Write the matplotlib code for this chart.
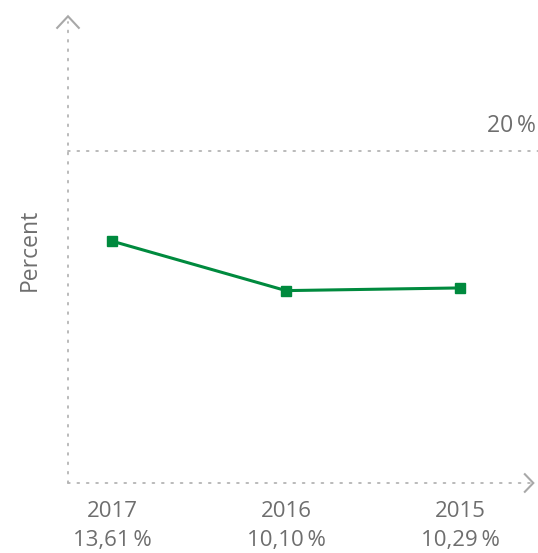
import numpy as np
import matplotlib
matplotlib.use("Agg")
import matplotlib.pyplot as plt
from matplotlib.transforms import blended_transform_factory

# data
years = ["2017", "2016", "2015"]
values = [13.61, 10.10, 10.29]
value_labels = ["13,61\u2009%", "10,10\u2009%", "10,29\u2009%"]
ref_value = 20
ref_label = "20\u2009%"

GREEN = "#008a3e"
GREY_TXT = "#6e6e6e"
GREY_DOT = "#b4b4b4"

plt.rcParams['font.family'] = ['Open Sans', 'DejaVu Sans']

fig = plt.figure(figsize=(5.38, 5.53), dpi=100)
ax = fig.add_axes([68 / 538, 70 / 553, 470 / 538, 463 / 553])
x = np.arange(len(years))
ax.set_xlim(-0.253, 2.448)
ax.set_ylim(-3.55, 29.3)
for s in ax.spines.values():
    s.set_visible(False)
ax.set_xticks([])
ax.set_yticks([])

dot = dict(color=GREY_DOT, lw=1.3, linestyle=(0, (1, 4.2)), dash_capstyle='round',
           clip_on=False, transform=ax.transAxes)
# axes as dotted lines
ax.plot([0, 0], [0, 0.995], **dot)
ax.plot([0, 0.985], [0, 0], **dot)
# arrow heads
arr = dict(color="#a8a8a8", lw=1.5, clip_on=False, transform=ax.transAxes,
           solid_joinstyle='miter')
ax.plot([-0.023, 0, 0.023], [0.983, 1.008, 0.983], **arr)
ax.plot([0.972, 0.99, 0.972], [0.019, 0, -0.019], **arr)

# reference line
ax.axhline(ref_value, xmin=0, xmax=1, **{k: v for k, v in dot.items() if k != 'transform'})
ax.text(0.995, ref_value + 0.9, ref_label, transform=blended_transform_factory(ax.transAxes, ax.transData),
        ha='right', va='bottom', fontsize=16.5, color=GREY_TXT)

# series
ax.plot(x, values, color=GREEN, lw=2.2, marker='s', markersize=7, zorder=3)

# category labels below axis
tr = blended_transform_factory(ax.transData, ax.transAxes)
for xi, yr, lab in zip(x, years, value_labels):
    ax.text(xi, -0.062, yr, transform=tr, ha='center', va='center', fontsize=16, color=GREY_TXT)
    ax.text(xi, -0.124, lab, transform=tr, ha='center', va='center', fontsize=16, color=GREY_TXT)

fig.text(30 / 538, 1 - 250 / 553, "Percent", rotation=90, ha='center', va='center',
         fontsize=16.5, color=GREY_TXT)

fig.savefig("out.png", dpi=100)
